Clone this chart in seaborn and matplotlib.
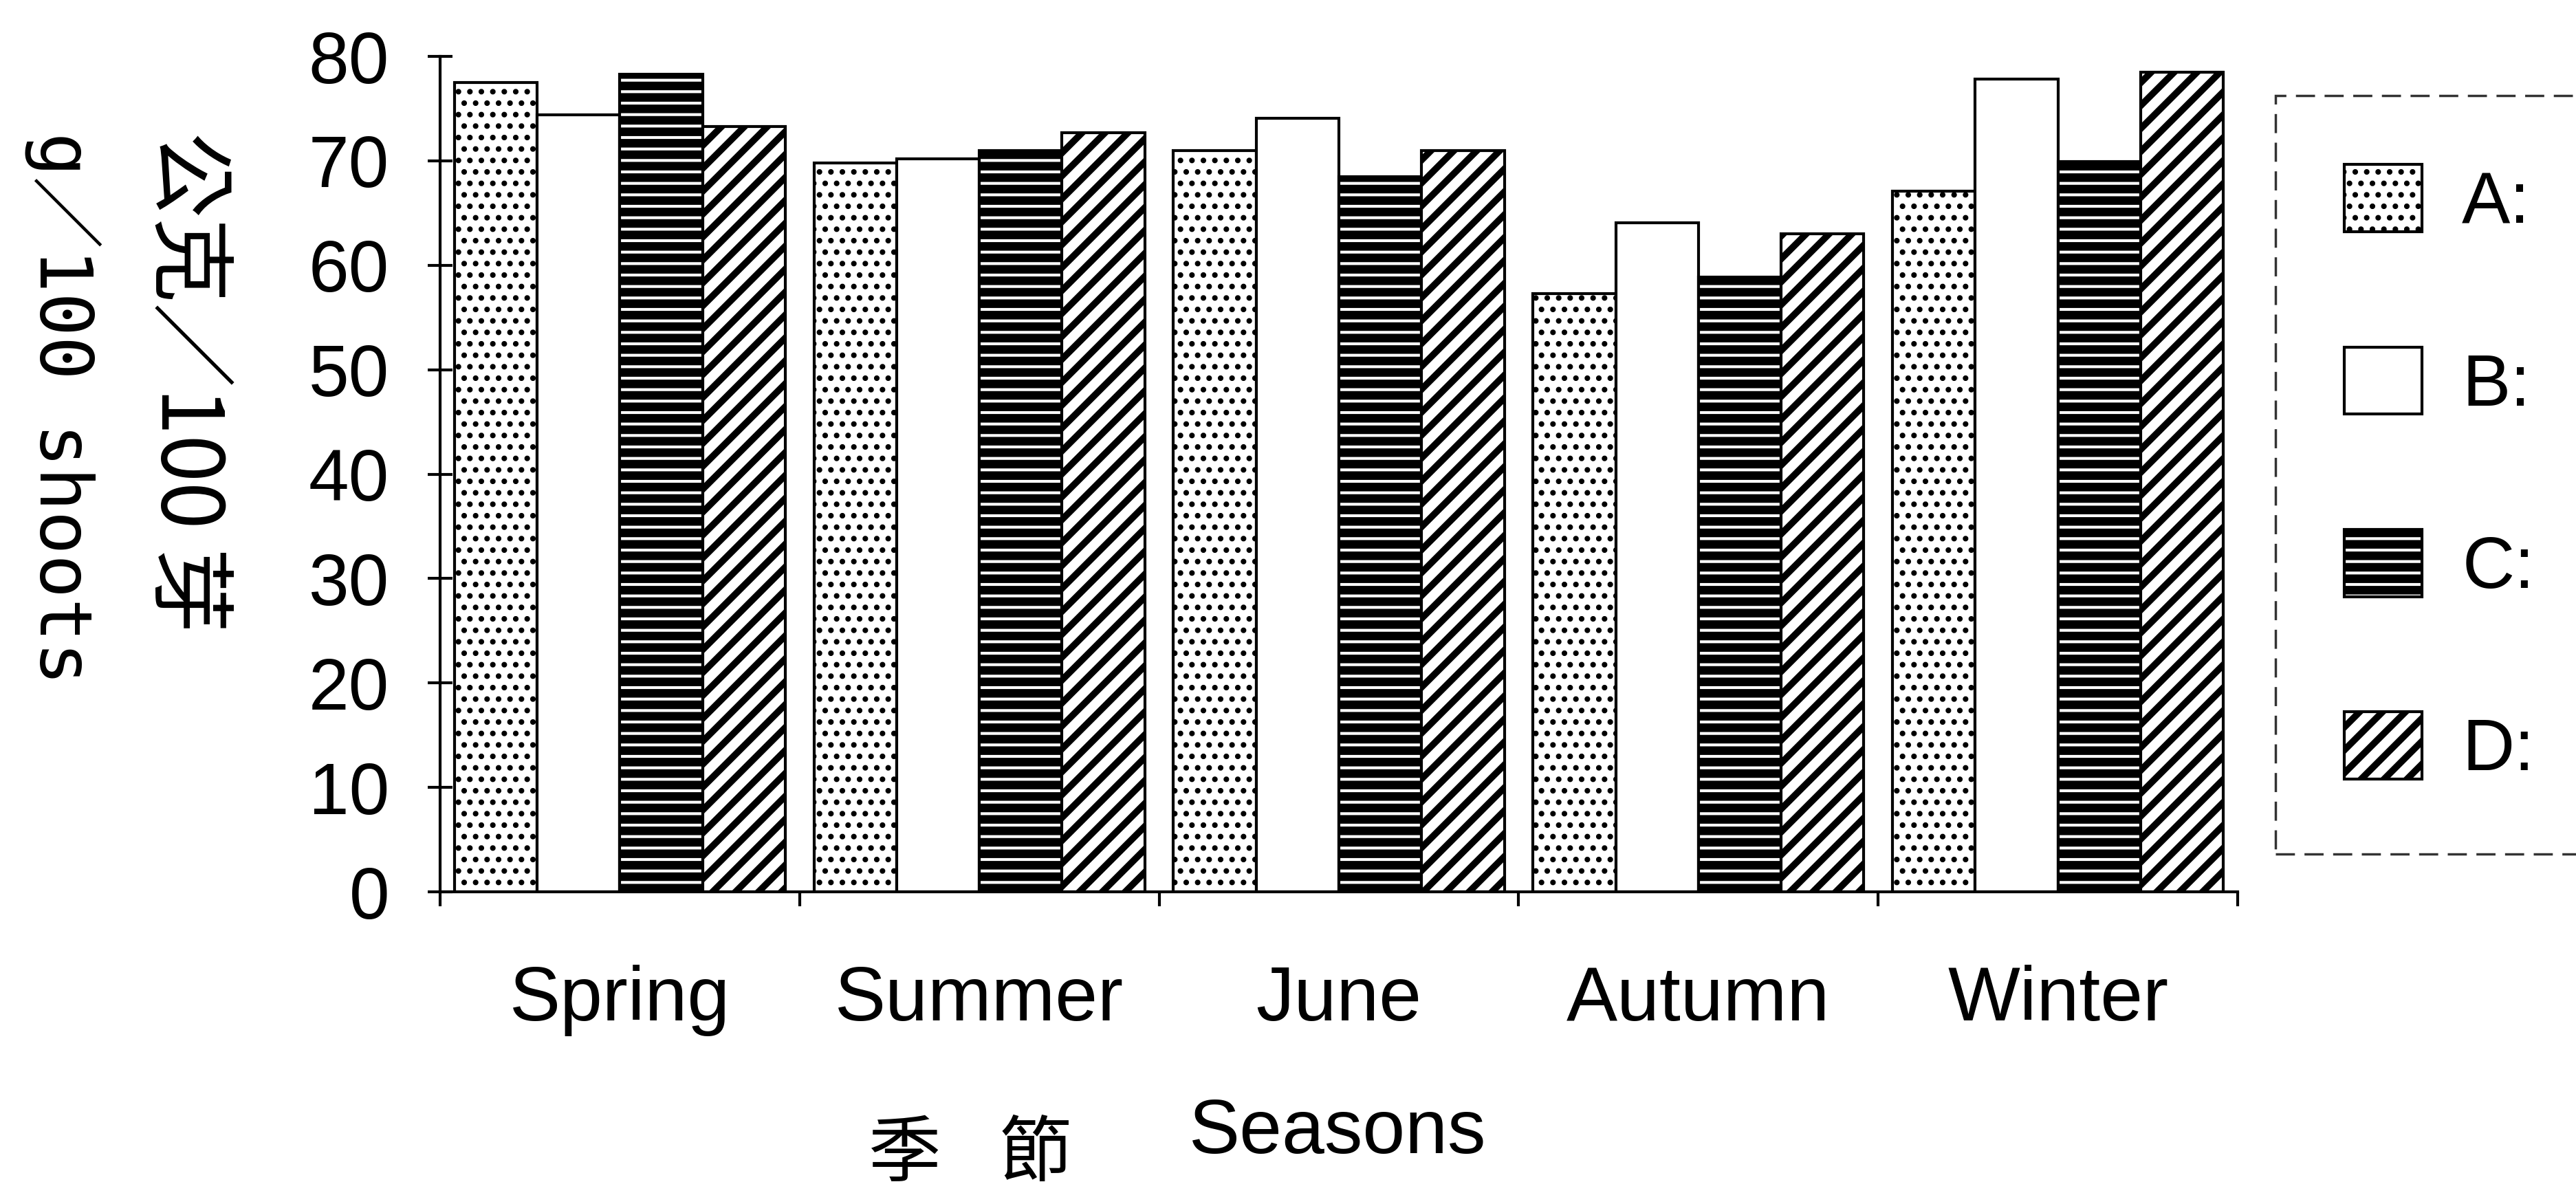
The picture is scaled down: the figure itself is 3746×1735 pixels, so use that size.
import numpy as np
import pandas as pd
import seaborn as sns
import matplotlib.pyplot as plt

# | Data |---------------------------------------------------------------------------------------------------------------|
seasons = ["Spring", "Summer", "June", "Autumn", "Winter"]
groups = ["A:", "B:", "C:", "D:"]
values_a = [77.5, 69.8, 71.0, 57.3, 67.1]
values_b = [74.4, 70.2, 74.1, 64.1, 77.8]
values_c = [78.3, 71.0, 68.5, 58.9, 69.9]
values_d = [73.3, 72.7, 71.0, 63.0, 78.5]
y_ticks = [0, 10, 20, 30, 40, 50, 60, 70, 80]

df = pd.DataFrame({
    "season": seasons * 4,
    "group": [g for g in groups for _ in seasons],
    "value": values_a + values_b + values_c + values_d,
})

# | Style |--------------------------------------------------------------------------------------------------------------|
sns.set_theme(style="ticks")
plt.rcParams["font.family"] = ["Liberation Sans", "Noto Sans CJK TC"]
plt.rcParams["text.color"] = "black"
plt.rcParams["hatch.linewidth"] = 3.4

fig = plt.figure(figsize=(37.46, 17.35), dpi=100)
ax = fig.add_axes([0.1708, 0.2524, 0.8687 - 0.1708, 0.9527 - 0.2524])

sns.barplot(data=df, x="season", y="value", hue="group", order=seasons, hue_order=groups,
            palette=["white"] * 4, saturation=1, edgecolor="black", linewidth=3,
            width=0.92, gap=0, legend=False, ax=ax)

# dotted / plain / horizontal stripes / diagonal stripes
hatches = [".", "", "-", "/"]
hatch_lw = [3.4, 1.0, 9.0, 7.0]
for container, h, lw in zip(ax.containers, hatches, hatch_lw):
    for bar in container:
        bar.set_hatch(h)
        if hasattr(bar, "set_hatch_linewidth"):
            bar.set_hatch_linewidth(lw)

ax.set_xlim(-0.5, 4.5)
ax.set_ylim(0, 80)
ax.set_yticks(y_ticks)
ax.set_xlabel("")
ax.set_ylabel("")
sns.despine(ax=ax)
for side in ["left", "bottom"]:
    ax.spines[side].set_linewidth(3)
    ax.spines[side].set_color("black")

ax.tick_params(axis="y", direction="inout", length=26, width=3, pad=40, labelsize=76, colors="black")
ax.tick_params(axis="x", which="major", length=0, pad=76, labelsize=80, colors="black")
ax.set_xticks(np.arange(-0.5, 5.0, 1.0), minor=True)
ax.tick_params(axis="x", which="minor", direction="out", length=15, width=3, colors="black")

# | Labels |-------------------------------------------------------------------------------------------------------------|
fig.text(0.0246, 0.8895, "g／100 shoots", rotation=-90, ha="center", va="top", fontsize=76,
         color="black", family=["DejaVu Sans Mono", "Noto Sans CJK TC"])
fig.text(0.0721, 0.8895, "公克／100 芽", rotation=-90, ha="center", va="top", fontsize=89,
         color="black", family=["Noto Sans CJK TC"])
fig.text(1316 / 3746, 0.0317, "季", ha="center", va="center", fontsize=76, color="black",
         family=["Noto Sans CJK TC"])
fig.text(1505 / 3746, 0.0317, "節", ha="center", va="center", fontsize=76, color="black",
         family=["Noto Sans CJK TC"])
fig.text(1945 / 3746, 0.0334, "Seasons", ha="center", va="baseline", fontsize=80, color="black")

# | Legend |-------------------------------------------------------------------------------------------------------------|
handles = [container[0] for container in ax.containers]
leg = fig.legend(handles, groups, loc="upper left", bbox_to_anchor=(3309 / 3746, 1 - 139 / 1735),
                 borderaxespad=0, fontsize=76, frameon=True, fancybox=False, labelcolor="black",
                 handlelength=1.07, handleheight=1.05, handletextpad=0.55,
                 labelspacing=1.5, borderpad=0.95)
frame = leg.get_frame()
frame.set_edgecolor("black")
frame.set_linewidth(2.5)
frame.set_linestyle((0, (8, 4)))
for handle, lw in zip(leg.legend_handles, hatch_lw):
    handle.set_edgecolor("black")
    handle.set_linewidth(3)
    if hasattr(handle, "set_hatch_linewidth"):
        handle.set_hatch_linewidth(lw)

fig.savefig("out.png", dpi=100)
